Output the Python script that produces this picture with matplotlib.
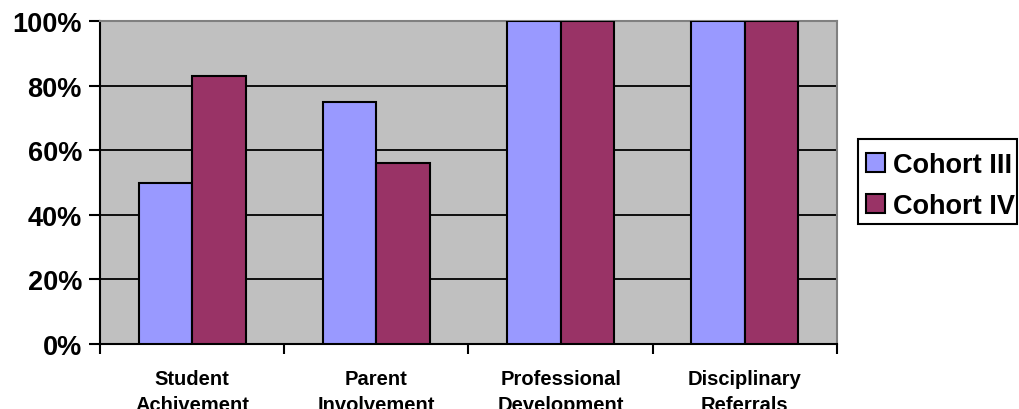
import matplotlib
matplotlib.use("Agg")
import matplotlib.pyplot as plt
import numpy as np
from matplotlib.patches import Patch, Rectangle

categories = ["Student\nAchivement", "Parent\nInvolvement", "Professional\nDevelopment", "Disciplinary\nReferrals"]
series_names = ["Cohort III", "Cohort IV"]
cohort3 = [50, 75, 100, 100]
cohort4 = [83, 56, 100, 100]
yticks = [0, 20, 40, 60, 80, 100]
ytick_labels = ["0%", "20%", "40%", "60%", "80%", "100%"]
colors = ["#9999FF", "#993366"]

plt.rcParams['font.family'] = ['Liberation Sans', 'DejaVu Sans']
plt.rcParams['font.weight'] = 'bold'

W, H = 1019, 410
fig = plt.figure(figsize=(W/100, H/100), dpi=100)
ax = fig.add_axes([100/W, 1-345/H, 737/W, 323/H])
ax.set_facecolor("#C0C0C0")

x = np.arange(len(categories))
w = 0.29
ax.bar(x - w/2, cohort3, w, color=colors[0], edgecolor="black", linewidth=1.5, zorder=3)
ax.bar(x + w/2, cohort4, w, color=colors[1], edgecolor="black", linewidth=1.5, zorder=3)

ax.set_xlim(-0.5, len(categories) - 0.5)
ax.set_ylim(0, 100)
ax.set_yticks(yticks)
ax.set_yticklabels(ytick_labels, fontsize=19.5, fontweight='bold')
ax.yaxis.grid(True, color="black", linewidth=1.3, zorder=1)
ax.set_axisbelow(True)

ax.set_xticks(np.arange(len(categories) + 1) - 0.5)
ax.set_xticklabels([])
ax.set_xticks(x, minor=True)
ax.set_xticklabels(categories, minor=True, fontsize=14.5, fontweight='bold', linespacing=1.45)
ax.tick_params(axis='x', which='minor', length=0, pad=18)
ax.tick_params(axis='x', which='major', length=7, width=1.5, direction='out')
ax.tick_params(axis='y', length=8, width=1.5, direction='out', pad=5)

for s in ["top", "right"]:
    ax.spines[s].set_color("#808080")
    ax.spines[s].set_linewidth(1.5)
for s in ["left", "bottom"]:
    ax.spines[s].set_color("black")
    ax.spines[s].set_linewidth(1.5)

# legend frame drawn separately to match the reference box
fig.patches.append(Rectangle((858/W, 1-225/H), 159/W, 85/H, transform=fig.transFigure,
                             facecolor="white", edgecolor="black", linewidth=1.5, zorder=0))

handles = [Patch(facecolor=c, edgecolor="black", linewidth=1.5) for c in colors]
leg = fig.legend(handles, series_names, loc="upper left", bbox_to_anchor=(858/W, 1-145/H),
                 prop={'family': 'Liberation Sans', 'weight': 'bold', 'size': 19.5},
                 frameon=False,
                 handlelength=0.68, handleheight=0.68, handletextpad=0.3, borderpad=0.3,
                 labelspacing=0.55, borderaxespad=0)

fig.savefig("out.png", dpi=100)
